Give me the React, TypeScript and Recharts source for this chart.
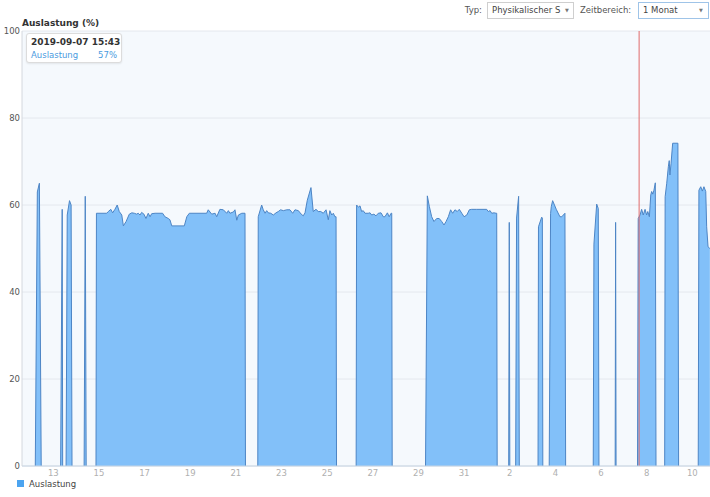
import { AreaChart, Area, XAxis, YAxis, CartesianGrid, ReferenceLine } from "recharts"

// time is in days counted from Aug 0 (Sep 1 = 32), value is Auslastung in %
type Pt = [number, number]

const aug12: Pt[] = [[12.21, 0], [12.3, 63], [12.39, 65], [12.47, 0]]
const aug13a: Pt[] = [[13.32, 0], [13.39, 59], [13.41, 0]]
const aug13b: Pt[] = [[13.56, 0], [13.61, 57.7], [13.71, 61], [13.78, 60], [13.82, 0]]
const aug14: Pt[] = [[14.35, 0], [14.4, 62], [14.44, 0]]
const aug15to21: Pt[] = [
  [14.87, 0], [14.89, 58.1], [15.34, 58.1], [15.41, 58.5], [15.52, 59], [15.6, 58.2], [15.7, 59], [15.8, 60],
  [15.89, 58.5], [16.0, 57.7], [16.07, 55.2], [16.19, 56.2], [16.33, 57.9], [16.44, 58.2], [16.55, 58.1],
  [16.65, 57.9], [16.72, 58.1], [16.8, 57.7], [16.87, 58.3], [16.97, 57.9], [17.06, 56.9], [17.16, 58.1],
  [17.24, 57.3], [17.31, 58], [17.46, 58.1], [17.79, 58.1], [17.89, 57.3], [18.04, 56.9], [18.11, 56.6],
  [18.19, 55.2], [18.74, 55.2], [18.85, 57.3], [18.96, 58.1], [19.72, 58.1], [19.79, 58.9], [19.94, 57.9],
  [20.09, 58.1], [20.16, 57.3], [20.3, 59], [20.45, 58.9], [20.6, 58.1], [20.67, 58.7], [20.74, 58.1],
  [20.89, 58.4], [20.96, 58.9], [21.04, 56.5], [21.11, 57.7], [21.26, 58.1], [21.4, 58.1], [21.42, 0],
]
const aug22to25: Pt[] = [
  [21.96, 0], [21.98, 57.3], [22.13, 60], [22.2, 58.9], [22.28, 58.1], [22.35, 58.7], [22.42, 58.2],
  [22.53, 58.1], [22.64, 57.7], [22.76, 58.2], [22.86, 58.5], [22.96, 58.9], [23.08, 58.7], [23.23, 58.9],
  [23.37, 58.9], [23.49, 58.1], [23.59, 58.9], [23.74, 58.7], [23.81, 58.2], [23.95, 57.5], [24.03, 58.2],
  [24.13, 61.1], [24.29, 64], [24.39, 58.5], [24.51, 59], [24.61, 58.5], [24.72, 58.5], [24.83, 58.1],
  [24.95, 58.9], [25.05, 56.6], [25.12, 58.7], [25.2, 57.7], [25.27, 58.1], [25.34, 57.3], [25.39, 57.3],
  [25.41, 0],
]
const aug26to27: Pt[] = [
  [26.27, 0], [26.29, 60], [26.37, 59.5], [26.44, 59.8], [26.51, 58.5], [26.58, 58.7], [26.66, 58.1],
  [26.8, 58.1], [26.88, 58.2], [26.95, 57.7], [27.05, 57.9], [27.14, 57.5], [27.24, 58.1], [27.36, 58.2],
  [27.46, 57.3], [27.53, 57.3], [27.64, 58.2], [27.72, 57.3], [27.8, 58.1], [27.83, 58.1], [27.85, 0],
]
const aug29toSep1: Pt[] = [
  [29.31, 0], [29.39, 62.1], [29.48, 59.6], [29.58, 57.3], [29.68, 56.2], [29.8, 56.9], [29.91, 56.9],
  [30.02, 56.2], [30.12, 55.4], [30.21, 56.2], [30.31, 57.3], [30.41, 58.9], [30.5, 58.1], [30.6, 58.9],
  [30.7, 58.5], [30.79, 59], [30.9, 58.1], [31.0, 57.3], [31.12, 57.7], [31.23, 58.9], [31.33, 59],
  [31.55, 59], [31.99, 59], [32.06, 58.5], [32.14, 58.7], [32.21, 58.1], [32.31, 58.2], [32.4, 58.1],
  [32.43, 58.1], [32.45, 0],
]
const sep2a: Pt[] = [[32.955, 0], [32.98, 56], [33.005, 0]]
const sep2b: Pt[] = [[33.26, 0], [33.3, 57], [33.39, 62], [33.42, 0]]
const sep3: Pt[] = [[34.24, 0], [34.26, 55], [34.4, 57.2], [34.43, 57], [34.45, 0]]
const sep4: Pt[] = [
  [34.73, 0], [34.79, 58], [34.82, 59.6], [34.88, 61], [35.04, 59], [35.2, 57.3], [35.28, 57.3],
  [35.35, 57.7], [35.42, 58.1], [35.45, 0],
]
const sep6: Pt[] = [[36.66, 0], [36.69, 51], [36.81, 60.2], [36.88, 59.2], [36.91, 0]]
const sep7a: Pt[] = [[37.62, 0], [37.64, 56], [37.66, 0]]
const sep7b: Pt[] = [
  [38.6, 0], [38.63, 56.9], [38.71, 57.7], [38.78, 59], [38.85, 57.7], [38.93, 59], [39.0, 57.7],
  [39.05, 58.5], [39.12, 57.3], [39.18, 62.3], [39.22, 63.1], [39.27, 62.5], [39.32, 63.4], [39.38, 65.1],
  [39.41, 0],
]
const sep9: Pt[] = [
  [39.79, 0], [39.81, 61.9], [39.88, 65], [39.95, 68.8], [39.99, 70.2], [40.02, 66.9], [40.07, 69.6],
  [40.14, 74.2], [40.37, 74.2], [40.4, 0],
]
const sep10: Pt[] = [
  [41.26, 0], [41.29, 63.4], [41.37, 64.2], [41.44, 63.2], [41.51, 64.2], [41.59, 63.1], [41.63, 55],
  [41.69, 50.4], [41.77, 50],
]

const segments = [
  aug12, aug13a, aug13b, aug14, aug15to21, aug22to25, aug26to27, aug29toSep1,
  sep2a, sep2b, sep3, sep4, sep6, sep7a, sep7b, sep9, sep10,
]

const xDomain = [11.628, 41.776]
const xTicks = [13, 15, 17, 19, 21, 23, 25, 27, 29, 31, 33, 35, 37, 39, 41]
const yTicks = [0, 20, 40, 60, 80, 100]
const cursorDay = 38.67
const cursorLabel = "2019-09-07 15:43"
const cursorValue = 57

// null between bursts so the line is not drawn along zero
const data = segments.flatMap((seg) => [
  ...seg.map(([t, v]) => ({ t, v: v as number | null })),
  { t: seg[seg.length - 1][0] + 0.001, v: null },
])

const FONT = "Verdana, 'DejaVu Sans', sans-serif"
const FILL = "#82c0f9"
const STROKE = "#4d85c5"

const selectBox = {
  position: "absolute" as const,
  top: 2,
  height: 15,
  background: "#fff",
  border: "1px solid #cfcfcf",
  fontSize: 8.5,
  lineHeight: "15px",
  color: "#444",
  boxSizing: "content-box" as const,
}

export default function App() {
  return (
    <div style={{ position: "absolute", left: 0, top: 0, width: 710, height: 497, fontFamily: FONT, background: "#fff" }}>
      <div style={{ position: "absolute", left: 22, top: 18, fontSize: 9, fontWeight: "bold", color: "#333", lineHeight: "11px" }}>
        Auslastung (%)
      </div>

      <div style={{ position: "absolute", right: 228, top: 4, fontSize: 8.5, color: "#555", lineHeight: "12px" }}>Typ:</div>
      <div style={{ ...selectBox, left: 487, width: 85 }}>
        <span style={{ position: "absolute", left: 4 }}>Physikalischer S</span>
        <span style={{ position: "absolute", left: 77, fontSize: 5, color: "#777" }}>▼</span>
      </div>
      <div style={{ position: "absolute", left: 580, top: 4, fontSize: 8.5, color: "#555", lineHeight: "12px" }}>Zeitbereich:</div>
      <div style={{ ...selectBox, left: 638, width: 69, border: "1px solid #9fc4e8" }}>
        <span style={{ position: "absolute", left: 4 }}>1 Monat</span>
        <span style={{ position: "absolute", left: 60, fontSize: 5, color: "#777" }}>▼</span>
      </div>

      <AreaChart width={710} height={497} data={data} margin={{ top: 31, right: 0, bottom: 11, left: 0 }}>
        <CartesianGrid vertical={false} stroke="#e4e8ee" fill="#f5f9fd" />
        <XAxis
          dataKey="t"
          type="number"
          domain={xDomain}
          allowDataOverflow
          ticks={xTicks}
          tickFormatter={(d: number) => String(d > 31 ? d - 31 : d)}
          height={20}
          tickSize={0}
          tickMargin={4}
          tick={{ fontSize: 8.5, fill: "#b0b0b0", fontFamily: FONT }}
          axisLine={{ stroke: "#c6d4e2" }}
        />
        <YAxis
          domain={[0, 100]}
          ticks={yTicks}
          width={22}
          tickSize={0}
          tickMargin={2}
          tick={{ fontSize: 8.5, fill: "#555", fontFamily: FONT }}
          axisLine={{ stroke: "#d4d8de" }}
        />
        <Area
          type="linear"
          dataKey="v"
          stroke={STROKE}
          strokeWidth={1}
          fill={FILL}
          fillOpacity={1}
          isAnimationActive={false}
          dot={false}
          activeDot={false}
        />
        <ReferenceLine x={cursorDay} stroke="#e06a6a" strokeWidth={1} />
      </AreaChart>

      <div
        style={{
          position: "absolute",
          left: 26,
          top: 33,
          width: 94,
          height: 28,
          background: "#fff",
          border: "1px solid #dcdcdc",
          borderRadius: 3,
          boxShadow: "0 1px 2px rgba(0,0,0,0.08)",
        }}
      >
        <div style={{ position: "absolute", left: 4, top: 3, fontSize: 9, fontWeight: "bold", color: "#333", lineHeight: "11px" }}>
          {cursorLabel}
        </div>
        <div style={{ position: "absolute", left: 4, top: 16, fontSize: 8.5, color: "#4a9be0", lineHeight: "11px" }}>Auslastung</div>
        <div style={{ position: "absolute", right: 4, top: 16, fontSize: 8.5, color: "#4a9be0", lineHeight: "11px" }}>
          {cursorValue}%
        </div>
      </div>

      <div style={{ position: "absolute", left: 17, top: 480, width: 7, height: 7, background: "#4ca4f0" }} />
      <div style={{ position: "absolute", left: 29, top: 478, fontSize: 8.5, color: "#444", lineHeight: "12px" }}>Auslastung</div>
    </div>
  )
}
